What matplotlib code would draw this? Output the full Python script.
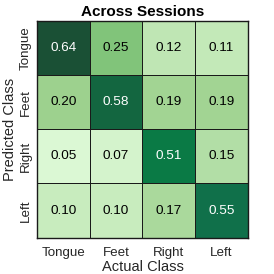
import numpy as np
import matplotlib
matplotlib.use("Agg")
import matplotlib.pyplot as plt
from matplotlib.colors import LinearSegmentedColormap

classes = ["Tongue", "Feet", "Right", "Left"]
# rows: predicted class, columns: actual class
values = np.array([
    [0.64, 0.25, 0.12, 0.11],
    [0.20, 0.58, 0.19, 0.19],
    [0.05, 0.07, 0.51, 0.15],
    [0.10, 0.10, 0.17, 0.55],
])

plt.rcParams['font.family'] = ['Liberation Sans', 'DejaVu Sans']

vmin, vmax = 0.05, 0.64
stops = [(0.05, "#dbf8d4"), (0.12, "#bfe6b4"), (0.20, "#9dd18e"),
         (0.25, "#80c47a"), (0.51, "#0a7a45"), (0.55, "#10704a"),
         (0.58, "#136640"), (0.64, "#1a5035")]
cmap = LinearSegmentedColormap.from_list(
    "g", [((v - vmin) / (vmax - vmin), c) for v, c in stops])

fig = plt.figure(figsize=(2.74, 2.74), dpi=100)
ax = fig.add_axes([0.135, 0.133, 0.77, 0.79])
n = len(classes)
ax.pcolormesh(np.arange(n + 1), np.arange(n + 1), values, cmap=cmap,
              vmin=vmin, vmax=vmax, edgecolors="#1a1a1a", linewidth=0.6)
ax.set_xlim(0, n)
ax.set_ylim(n, 0)
for i in range(n):
    for j in range(n):
        v = values[i, j]
        ax.text(j + 0.5, i + 0.5, f"{v:.2f}", ha="center", va="center",
                fontsize=9.7, color="white" if v > 0.4 else "black")
ax.set_xticks(np.arange(n) + 0.5)
ax.set_xticklabels(classes, fontsize=9.6, color="#262626")
ax.set_yticks(np.arange(n) + 0.5)
ax.set_yticklabels(classes, fontsize=9.6, rotation=90, va="center", color="#262626")
ax.tick_params(axis="x", length=0, pad=7)
ax.tick_params(axis="y", length=0, pad=4)
ax.set_xlabel("Actual Class", fontsize=10.5, labelpad=0.5, color="#262626")
ax.set_ylabel("Predicted Class", fontsize=10.5, labelpad=2, color="#262626")
ax.set_title("Across Sessions", fontsize=11, fontweight="bold", pad=4)
for s in ax.spines.values():
    s.set_color("#1a1a1a")
    s.set_linewidth(1)
fig.savefig("out.png", dpi=100)
